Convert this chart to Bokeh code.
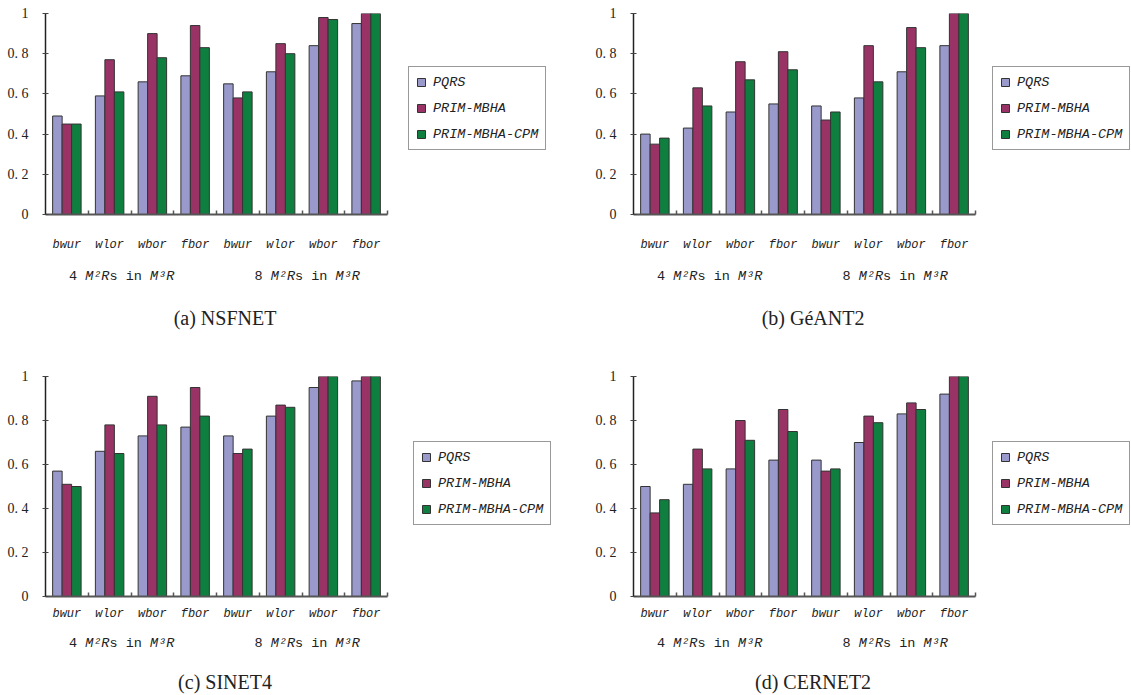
from bokeh.plotting import figure
from bokeh.models import (Range1d, FixedTicker, LinearAxis, Legend, LegendItem,
                          Label, ColumnDataSource)
from bokeh.transform import dodge
from bokeh.layouts import column, row
from bokeh.embed import file_html
from bokeh.resources import INLINE

# ---------------- data ----------------
categories = ["bwur", "wlor", "wbor", "fbor", "bwur", "wlor", "wbor", "fbor"]
group_numbers = ["4", "8"]
series_names = ["PQRS", "PRIM-MBHA", "PRIM-MBHA-CPM"]
series_colors = ["#9999CC", "#993366", "#0F7F40"]
y_ticks = [0, 0.2, 0.4, 0.6, 0.8, 1]
y_tick_labels = ["0", "0. 2", "0. 4", "0. 6", "0. 8", "1"]
panel_titles = ["(a) NSFNET", "(b) GéANT2", "(c) SINET4", "(d) CERNET2"]

nsfnet_pqrs = [0.49, 0.59, 0.66, 0.69, 0.65, 0.71, 0.84, 0.95]
nsfnet_mbha = [0.45, 0.77, 0.90, 0.94, 0.58, 0.85, 0.98, 1.00]
nsfnet_cpm = [0.45, 0.61, 0.78, 0.83, 0.61, 0.80, 0.97, 1.00]

geant2_pqrs = [0.40, 0.43, 0.51, 0.55, 0.54, 0.58, 0.71, 0.84]
geant2_mbha = [0.35, 0.63, 0.76, 0.81, 0.47, 0.84, 0.93, 1.00]
geant2_cpm = [0.38, 0.54, 0.67, 0.72, 0.51, 0.66, 0.83, 1.00]

sinet4_pqrs = [0.57, 0.66, 0.73, 0.77, 0.73, 0.82, 0.95, 0.98]
sinet4_mbha = [0.51, 0.78, 0.91, 0.95, 0.65, 0.87, 1.00, 1.00]
sinet4_cpm = [0.50, 0.65, 0.78, 0.82, 0.67, 0.86, 1.00, 1.00]

cernet2_pqrs = [0.50, 0.51, 0.58, 0.62, 0.62, 0.70, 0.83, 0.92]
cernet2_mbha = [0.38, 0.67, 0.80, 0.85, 0.57, 0.82, 0.88, 1.00]
cernet2_cpm = [0.44, 0.58, 0.71, 0.75, 0.58, 0.79, 0.85, 1.00]

TEXT = "#222222"
MONO = "Liberation Mono"
SERIF = "Liberation Serif"
AXIS_PX = 342  # pixel length of the drawn x axis


def make_panel(title, pqrs, mbha, cpm, width, b_left, b_right,
               plot_h, b_top, b_bottom, cap_h, legend_xy, cat_standoff,
               group_y, title_y):
    n = len(categories)
    frame_w = width - b_left - b_right
    x_end = n * frame_w / AXIS_PX
    xr = Range1d(0, x_end)
    p = figure(width=width, height=plot_h, x_range=xr,
               y_range=Range1d(0, 1), x_axis_type=None,
               output_backend="svg", toolbar_location=None)
    p.min_border_left = b_left
    p.min_border_right = b_right
    p.min_border_top = b_top
    p.min_border_bottom = b_bottom
    p.outline_line_color = None
    p.grid.visible = False
    p.background_fill_color = "white"
    p.border_fill_color = "white"

    # y axis
    ya = p.yaxis[0]
    ya.ticker = FixedTicker(ticks=y_ticks)
    ya.major_label_overrides = {float(t): l for t, l in zip(y_ticks, y_tick_labels)}
    ya.axis_line_color = "#222222"
    ya.axis_line_width = 1.5
    ya.major_tick_line_color = "#444444"
    ya.major_tick_in = 3
    ya.major_tick_out = 3
    ya.minor_tick_line_color = None
    ya.major_label_text_font = SERIF
    ya.major_label_text_font_size = "14px"
    ya.major_label_text_color = TEXT
    ya.major_label_standoff = 14

    src = ColumnDataSource(dict(x=[i + 0.5 for i in range(n)],
                                s0=pqrs, s1=mbha, s2=cpm))
    bw = 0.222
    offsets = [-bw, 0.0, bw]
    rends = []
    for k, (off, col) in enumerate(zip(offsets, series_colors)):
        r = p.vbar(x=dodge("x", off), top="s%d" % k, width=bw, source=src,
                   fill_color=col, line_color="#333333", line_width=1)
        rends.append(r)

    # x axis: category labels at centres, boundary ticks as minor ticks
    centers = [i + 0.5 for i in range(n)]
    ax = LinearAxis(ticker=FixedTicker(ticks=centers,
                                       minor_ticks=list(range(1, n + 1))))
    ax.bounds = (0, n)
    ax.major_label_overrides = {c: cat for c, cat in zip(centers, categories)}
    ax.axis_line_color = "#555555"
    ax.axis_line_width = 2
    ax.major_tick_line_color = None
    ax.major_tick_in = 0
    ax.major_tick_out = 0
    ax.minor_tick_line_color = "#555555"
    ax.minor_tick_line_width = 1.5
    ax.minor_tick_in = 4
    ax.minor_tick_out = 0
    ax.major_label_text_font = MONO
    ax.major_label_text_font_style = "italic"
    ax.major_label_text_font_size = "12px"
    ax.major_label_text_color = TEXT
    ax.major_label_standoff = cat_standoff
    p.add_layout(ax, "below")

    # legend
    items = [LegendItem(label=s, renderers=[r]) for s, r in zip(series_names, rends)]
    leg = Legend(items=items, location=legend_xy)
    leg.border_line_color = "#333333"
    leg.border_line_width = 1
    leg.background_fill_color = "white"
    leg.background_fill_alpha = 1
    leg.label_text_font = MONO
    leg.label_text_font_style = "italic"
    leg.label_text_font_size = "13.5px"
    leg.label_text_color = TEXT
    leg.glyph_width = 10
    leg.glyph_height = 10
    leg.label_standoff = 7
    leg.label_height = 16
    leg.spacing = 10
    leg.padding = 7
    leg.margin = 0
    p.add_layout(leg, "center")

    # caption strip (group labels + panel title), y measured in px from top
    c = figure(width=width, height=cap_h, x_range=xr,
               y_range=Range1d(cap_h, 0), x_axis_type=None, y_axis_type=None,
               output_backend="svg", toolbar_location=None)
    c.min_border_left = b_left
    c.min_border_right = b_right
    c.min_border_top = 0
    c.min_border_bottom = 0
    c.outline_line_color = None
    c.background_fill_color = "white"
    c.border_fill_color = "white"

    fs = 13.5
    cw = 0.6 * fs
    for g, gx in zip(group_numbers, [1.78, 6.12]):
        pieces = [(g + " ", "normal"), ("M²R", "italic"), ("s in ", "normal"),
                  ("M³R", "italic")]
        total = sum(len(t) for t, _ in pieces) * cw
        pos = -total / 2
        for t, style in pieces:
            c.add_layout(Label(x=gx, y=group_y, x_units="data", y_units="data",
                               text=t, x_offset=pos, text_align="left",
                               text_baseline="middle", text_font=MONO,
                               text_font_style=style,
                               text_font_size="%gpx" % fs, text_color=TEXT))
            pos += len(t) * cw

    c.add_layout(Label(x=n / 2 + 0.2, y=title_y, x_units="data", y_units="data",
                       text=title, text_align="center", text_baseline="middle",
                       text_font=SERIF, text_font_size="20px", text_color=TEXT))
    return column(p, c)


pa = make_panel(panel_titles[0], nsfnet_pqrs, nsfnet_mbha, nsfnet_cpm,
                588, 45, 2, 256, 13, 42, 112, (363, 64), 23, 20, 61)
pb = make_panel(panel_titles[1], geant2_pqrs, geant2_mbha, geant2_cpm,
                543, 45, 0, 256, 13, 42, 112, (359, 64), 23, 20, 61)
pc = make_panel(panel_titles[2], sinet4_pqrs, sinet4_mbha, sinet4_cpm,
                588, 45, 2, 256, 8, 28, 71, (368, 71), 10, 19, 57)
pd = make_panel(panel_titles[3], cernet2_pqrs, cernet2_mbha, cernet2_cpm,
                543, 45, 0, 256, 8, 28, 71, (359, 71), 10, 19, 57)

layout = column(row(pa, pb), row(pc, pd))
open("out.html", "w").write(file_html(layout, INLINE))
